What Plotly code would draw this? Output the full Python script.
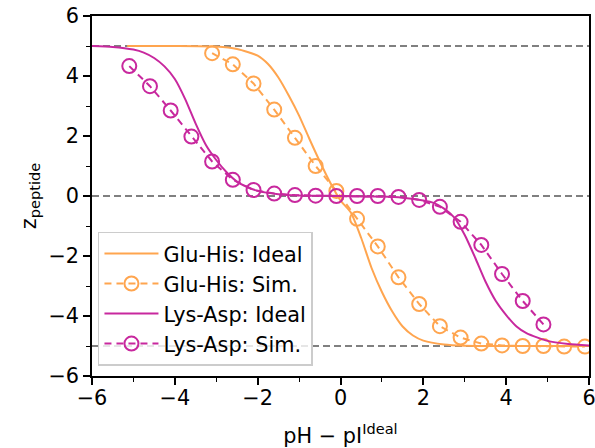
import plotly.graph_objects as go

# Glu-His ideal curve
gh_ideal_x = [-5.15, -4.0, -3.0, -2.5, -2.0, -1.75, -1.5, -1.25, -1.0, -0.75, -0.5, -0.25, 0.0,
              0.25, 0.5, 0.75, 1.0, 1.25, 1.5, 1.75, 2.0, 2.5, 3.0, 4.0, 6.0]
gh_ideal_y = [5.0, 5.0, 4.98, 4.9, 4.68, 4.4, 3.95, 3.35, 2.68, 1.9, 1.15, 0.45, -0.15,
              -0.55, -1.4, -2.4, -3.2, -3.85, -4.35, -4.65, -4.82, -4.95, -4.99, -5.0, -5.0]

# Glu-His simulation
gh_sim_x = [-3.1, -2.6, -2.1, -1.6, -1.1, -0.6, -0.1, 0.4, 0.9, 1.4, 1.9, 2.4, 2.9, 3.4,
            3.9, 4.4, 4.9, 5.4, 5.9]
gh_sim_y = [4.76, 4.39, 3.75, 2.88, 1.94, 1.0, 0.17, -0.76, -1.68, -2.71, -3.6, -4.34,
            -4.72, -4.92, -4.98, -5.0, -5.0, -5.02, -5.02]

# Lys-Asp ideal curve
la_ideal_x = [-6.0, -5.5, -5.0, -4.75, -4.5, -4.25, -4.0, -3.75, -3.5, -3.25, -3.0, -2.75,
              -2.5, -2.25, -2.0, -1.5, -1.0, 0.0, 1.0, 1.5, 2.0, 2.25, 2.5, 2.75, 3.0,
              3.25, 3.5, 3.75, 4.0, 4.25, 4.5, 5.0, 5.5, 6.0]
la_ideal_y = [5.0, 4.97, 4.88, 4.78, 4.6, 4.32, 3.9, 3.23, 2.42, 1.7, 1.2, 0.79,
              0.48, 0.3, 0.17, 0.06, 0.02, 0.0, -0.02, -0.06, -0.15, -0.23, -0.42, -0.72, -1.3,
              -2.05, -2.85, -3.5, -3.97, -4.35, -4.58, -4.83, -4.93, -4.98]

# Lys-Asp simulation
la_sim_x = [-5.1, -4.6, -4.1, -3.6, -3.1, -2.6, -2.1, -1.6, -1.1, -0.6, -0.1, 0.4, 0.9,
            1.4, 1.9, 2.4, 2.9, 3.4, 3.9, 4.4, 4.9]
la_sim_y = [4.33, 3.66, 2.85, 1.98, 1.15, 0.54, 0.2, 0.08, 0.03, 0.01, 0.0, 0.0, 0.0,
            -0.03, -0.13, -0.36, -0.86, -1.63, -2.6, -3.5, -4.28]

ref_levels = [5, 0, -5]
tick_vals = [-6, -4, -2, 0, 2, 4, 6]

ORANGE = "#ffa54f"
MAGENTA = "#c8289e"
FONT = "DejaVu Sans"
FS = 20.8
LW = 2

fig = go.Figure()

for lv in ref_levels:
    fig.add_shape(type="line", xref="paper", yref="y", x0=0, x1=1, y0=lv, y1=lv,
                  line=dict(color="#808080", width=1.8, dash="7px,4px"), layer="below")

fig.add_trace(go.Scatter(x=gh_ideal_x, y=gh_ideal_y, mode="lines", name="Glu-His: Ideal",
                         legendgroup="a",
                         line=dict(color=ORANGE, width=LW, shape="spline", smoothing=0.6)))
fig.add_trace(go.Scatter(x=gh_sim_x, y=gh_sim_y, mode="lines+markers", name="Glu-His: Sim.",
                         legendgroup="b",
                         line=dict(color=ORANGE, width=LW, dash="7px,5px"),
                         marker=dict(symbol="circle-open", size=14, color=ORANGE,
                                     line=dict(width=LW, color=ORANGE))))
fig.add_trace(go.Scatter(x=la_ideal_x, y=la_ideal_y, mode="lines", name="Lys-Asp: Ideal",
                         legendgroup="c",
                         line=dict(color=MAGENTA, width=LW, shape="spline", smoothing=0.6)))
fig.add_trace(go.Scatter(x=la_sim_x, y=la_sim_y, mode="lines+markers", name="Lys-Asp: Sim.",
                         legendgroup="d",
                         line=dict(color=MAGENTA, width=LW, dash="7px,5px"),
                         marker=dict(symbol="circle-open", size=14, color=MAGENTA,
                                     line=dict(width=LW, color=MAGENTA))))

axis_common = dict(
    showline=True, linecolor="black", linewidth=1.5, mirror=True,
    ticks="outside", ticklen=7, tickwidth=1.5, tickcolor="black",
    showgrid=False, zeroline=False, automargin=False,
    tickfont=dict(family=FONT, size=FS, color="black"),
    tickvals=tick_vals, ticklabeloverflow="allow",
    minor=dict(dtick=1, ticks="outside", ticklen=4, tickwidth=1, tickcolor="black"),
)

fig.update_xaxes(range=[-6, 6], ticklabelstandoff=-5,
                 title=dict(text="pH − pI<sup>Ideal</sup>", font=dict(family=FONT, size=FS, color="black"),
                            standoff=21),
                 **axis_common)
fig.update_yaxes(range=[-6, 6],
                 title=dict(text="z<sub>peptide</sub>", font=dict(family=FONT, size=FS, color="black"),
                            standoff=6),
                 **axis_common)

fig.update_layout(
    width=595, height=448,
    margin=dict(l=92, r=6, t=16, b=72),
    paper_bgcolor="white", plot_bgcolor="white",
    font=dict(family=FONT, size=FS, color="black"),
    legend=dict(x=0.012, y=0.028, xanchor="left", yanchor="bottom",
                bgcolor="rgba(255,255,255,0.8)", bordercolor="#cccccc", borderwidth=1.5,
                font=dict(family=FONT, size=FS, color="black"),
                itemwidth=54, tracegroupgap=0),
    showlegend=True,
)

fig.write_html("out.html", config={"displayModeBar": False},
               post_script="document.body.style.margin='0px';")
